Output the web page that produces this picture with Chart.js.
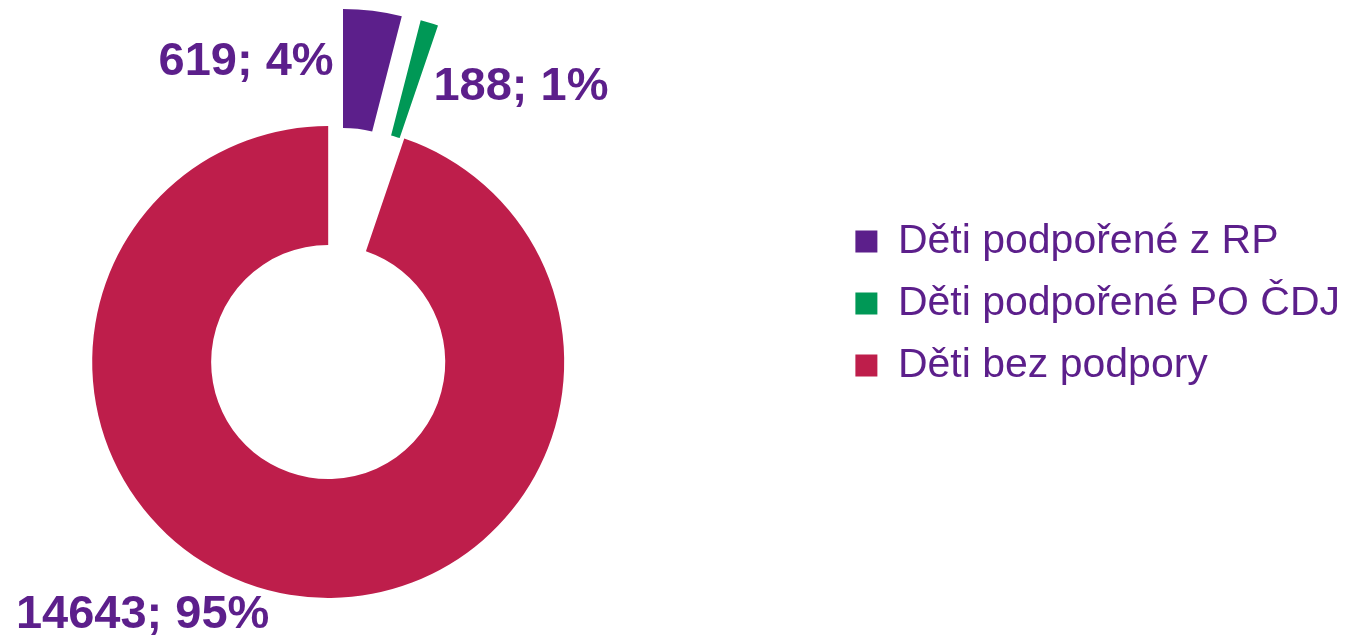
<!DOCTYPE html>
<html>
<head>
<meta charset="utf-8">
<script src="https://cdn.jsdelivr.net/npm/chart.js@4/dist/chart.umd.min.js"></script>
<style>
  html, body { margin: 0; padding: 0; background: #ffffff; overflow: hidden; }
  body { width: 1350px; height: 636px; position: relative; }
  #wrap { position: absolute; left: -178px; top: 0; width: 1528px; height: 636px; }
</style>
</head>
<body>
<div id="wrap"><canvas id="c" width="1528" height="636"></canvas></div>
<script>
// ---- data ----
const categories = ['Děti podpořené z RP', 'Děti podpořené PO ČDJ', 'Děti bez podpory'];
const values = [619, 188, 14643];
const colors = ['#5C1F8B', '#009856', '#BE1E4B'];
const textColor = '#5C1F8B';

// exploded slices: pure translation along the bisector
const explodePlugin = {
  id: 'explodeSlices',
  beforeDatasetDraw(chart, args, opts) {
    const ctx = chart.ctx;
    args.meta.data.forEach((arc, i) => {
      const d = (opts.distances && opts.distances[i]) || 0;
      const mid = (arc.startAngle + arc.endAngle) / 2;
      ctx.save();
      ctx.translate(Math.cos(mid) * d, Math.sin(mid) * d);
      arc.draw(ctx);
      ctx.restore();
    });
    return false;
  }
};

const labelPlugin = {
  id: 'sliceLabels',
  afterDatasetsDraw(chart, args, opts) {
    const ctx = chart.ctx;
    const meta = chart.getDatasetMeta(0);
    const data = chart.data.datasets[0].data;
    const total = data.reduce((a, b) => a + b, 0);
    const dist = chart.options.plugins.explodeSlices.distances;
    ctx.save();
    ctx.font = opts.font;
    ctx.fillStyle = opts.color;
    ctx.textBaseline = 'alphabetic';
    meta.data.forEach((arc, i) => {
      const mid = (arc.startAngle + arc.endAngle) / 2;
      const r = arc.outerRadius + (dist[i] || 0);
      const ax = arc.x + Math.cos(mid) * r;
      const ay = arc.y + Math.sin(mid) * r;
      const p = opts.place[i];
      const txt = data[i] + '; ' + Math.round(data[i] / total * 100) + '%';
      ctx.textAlign = p.align;
      ctx.fillText(txt, ax + p.dx, ay + p.dy);
    });
    ctx.restore();
  }
};

Chart.defaults.font.family = '"Liberation Sans", Arial, sans-serif';

new Chart(document.getElementById('c'), {
  type: 'doughnut',
  data: {
    labels: categories,
    datasets: [{
      data: values,
      backgroundColor: colors,
      borderWidth: 0,
      offset: 0,
      hoverOffset: 0,
      clip: false
    }]
  },
  options: {
    responsive: false,
    animation: false,
    events: [],
    radius: 236,
    cutout: '49.6%',
    rotation: 0,
    layout: { padding: { left: 0, right: 0, top: 200, bottom: 112 } },
    plugins: {
      tooltip: { enabled: false },
      explodeSlices: { distances: [118, 118, 0] },
      sliceLabels: {
        font: 'bold 47px "Liberation Sans", Arial, sans-serif',
        color: textColor,
        place: [
          { align: 'right', dx: -39, dy: 64 },
          { align: 'left', dx: 4, dy: 77 },
          { align: 'center', dx: -147, dy: 33 }
        ]
      },
      legend: {
        position: 'right',
        align: 'start',
        labels: {
          boxWidth: 22,
          boxHeight: 22,
          padding: 21,
          color: textColor,
          font: { size: 41 }
        }
      }
    }
  },
  plugins: [explodePlugin, labelPlugin]
});
</script>
</body>
</html>
